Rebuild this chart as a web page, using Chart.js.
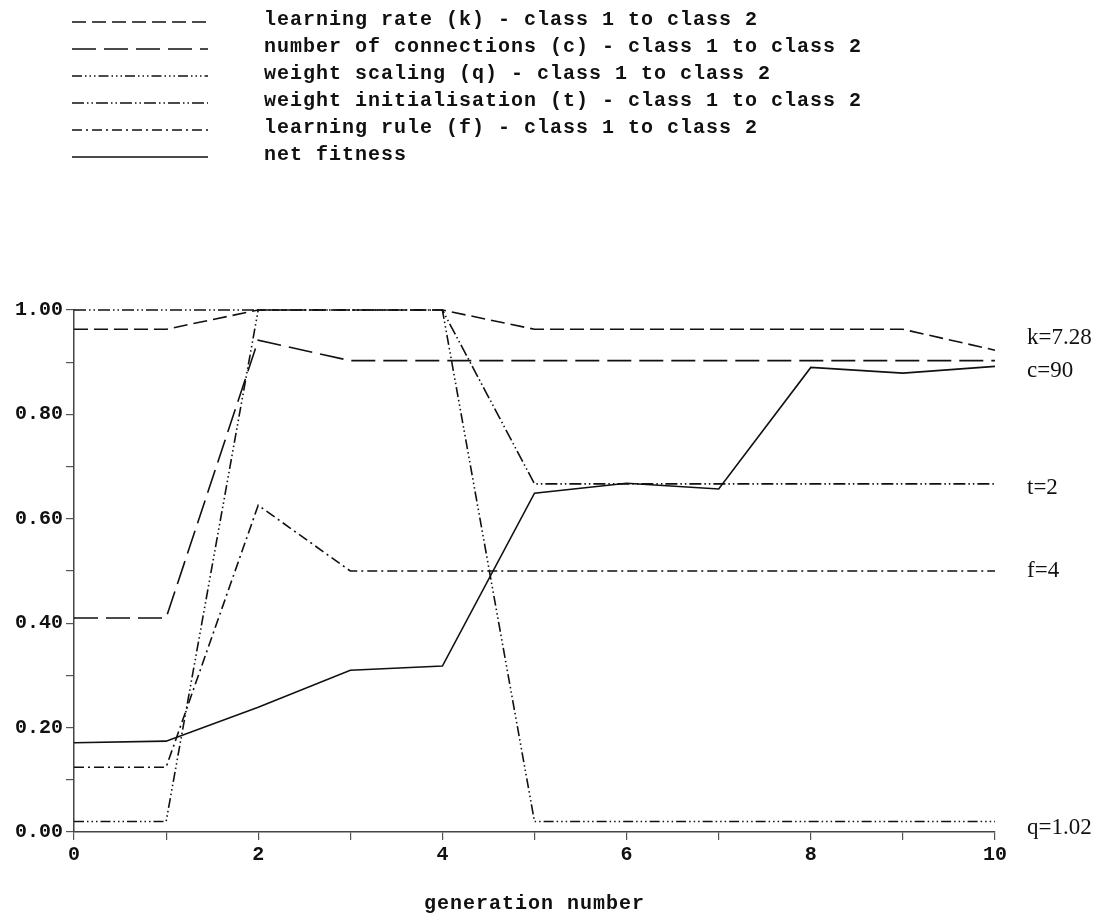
<!DOCTYPE html>
<html>
<head>
<meta charset="utf-8">
<script src="https://cdn.jsdelivr.net/npm/chart.js@4.4.1/dist/chart.umd.min.js"></script>
<style>
  html, body { margin: 0; padding: 0; background: #fff; }
  #wrap { width: 1101px; height: 915px; position: relative; }
</style>
</head>
<body>
<div id="wrap"><canvas id="c" width="1101" height="915"></canvas></div>
<script>
// ---- data ----
const generations = [0, 1, 2, 3, 4, 5, 6, 7, 8, 9, 10];
const learningRate      = [0.963, 0.963, 1.0, 1.0, 1.0, 0.963, 0.963, 0.963, 0.963, 0.963, 0.923];
const numConnections    = [0.41, 0.41, 0.942, 0.903, 0.903, 0.903, 0.903, 0.903, 0.903, 0.903, 0.903];
const weightScaling     = [0.02, 0.02, 1.0, 1.0, 1.0, 0.02, 0.02, 0.02, 0.02, 0.02, 0.02];
const weightInit        = [1.0, 1.0, 1.0, 1.0, 1.0, 0.667, 0.667, 0.667, 0.667, 0.667, 0.667];
const learningRule      = [0.124, 0.124, 0.626, 0.50, 0.50, 0.50, 0.50, 0.50, 0.50, 0.50, 0.50];
const netFitness        = [0.171, 0.174, 0.239, 0.310, 0.318, 0.649, 0.668, 0.657, 0.890, 0.879, 0.892];
const seriesNames = [
  'learning rate (k) - class 1 to class 2',
  'number of connections (c) - class 1 to class 2',
  'weight scaling (q) - class 1 to class 2',
  'weight initialisation (t) - class 1 to class 2',
  'learning rule (f) - class 1 to class 2',
  'net fitness'
];
const endLabels = ['k=7.28', 'c=90', 'q=1.02', 't=2', 'f=4', null];
const xTitle = 'generation number';

// ---- styles ----
const dashes = [
  [14, 6],
  [24, 8],
  [10, 3, 1.5, 3, 1.5, 3, 1.5, 3],
  [12, 3, 1.5, 3, 1.5, 3],
  [10, 4, 2, 4],
  []
];
const endLabelOffsets = [-12, 10, 6, 4, 0, 0];
const ink = '#111';
const monoBold = 'bold 20px "Liberation Mono", "DejaVu Sans Mono", monospace';

const allSeries = [learningRate, numConnections, weightScaling, weightInit, learningRule, netFitness];
const datasets = allSeries.map((vals, i) => ({
  label: seriesNames[i],
  data: generations.map((g, j) => ({ x: g, y: vals[j] })),
  borderColor: ink,
  borderWidth: 1.6,
  borderDash: dashes[i],
  pointRadius: 0,
  tension: 0,
  fill: false,
  clip: false
}));

const decorPlugin = {
  id: 'decor',
  afterDraw(chart) {
    const ctx = chart.ctx;
    const ys = chart.scales.y;
    const area = chart.chartArea;
    ctx.save();
    // legend
    ctx.font = monoBold;
    ctx.fillStyle = ink;
    ctx.textBaseline = 'middle';
    ctx.textAlign = 'left';
    try { ctx.letterSpacing = '1px'; } catch (e) {}
    seriesNames.forEach((name, i) => {
      const y = 20 + i * 27;
      ctx.beginPath();
      ctx.setLineDash(dashes[i]);
      ctx.strokeStyle = ink;
      ctx.lineWidth = 1.6;
      ctx.moveTo(72, y + 2);
      ctx.lineTo(208, y + 2);
      ctx.stroke();
      ctx.fillText(name, 264, y);
    });
    ctx.setLineDash([]);
    // x title
    ctx.textAlign = 'center';
    ctx.fillText(xTitle, (area.left + area.right) / 2, 904);
    try { ctx.letterSpacing = '0px'; } catch (e) {}
    // end labels
    ctx.font = '23px "Liberation Serif", "Times New Roman", serif';
    ctx.textAlign = 'left';
    allSeries.forEach((vals, i) => {
      if (!endLabels[i]) return;
      const y = ys.getPixelForValue(vals[vals.length - 1]) + endLabelOffsets[i];
      ctx.fillText(endLabels[i], 1027, y);
    });
    ctx.restore();
  }
};

new Chart(document.getElementById('c'), {
  type: 'line',
  data: { datasets },
  options: {
    responsive: false,
    animation: false,
    devicePixelRatio: 1,
    layout: { padding: { top: 310, right: 106, left: 0, bottom: 0 } },
    plugins: { legend: { display: false }, tooltip: { enabled: false } },
    scales: {
      x: {
        type: 'linear',
        min: 0, max: 10,
        afterFit(s) { s.height = 83; },
        ticks: {
          stepSize: 1,
          autoSkip: false,
          maxRotation: 0,
          padding: 3,
          color: ink,
          font: { family: '"Liberation Mono", monospace', weight: 'bold', size: 20 },
          callback(v) { return v % 2 === 0 ? String(v) : ''; }
        },
        grid: { drawOnChartArea: false, drawTicks: true, tickLength: 8, color: '#555', lineWidth: 1.2 },
        border: { display: true, color: '#444', width: 1.5 }
      },
      y: {
        min: 0, max: 1,
        afterFit(s) { s.width = 74; },
        ticks: {
          stepSize: 0.1,
          autoSkip: false,
          padding: 3,
          color: ink,
          font: { family: '"Liberation Mono", monospace', weight: 'bold', size: 20 },
          callback(v) { return Math.round(v * 10) % 2 === 0 ? v.toFixed(2) : ''; }
        },
        grid: { drawOnChartArea: false, drawTicks: true, tickLength: 8, color: '#555', lineWidth: 1.2 },
        border: { display: true, color: '#444', width: 1.5 }
      }
    }
  },
  plugins: [decorPlugin]
});
</script>
</body>
</html>
